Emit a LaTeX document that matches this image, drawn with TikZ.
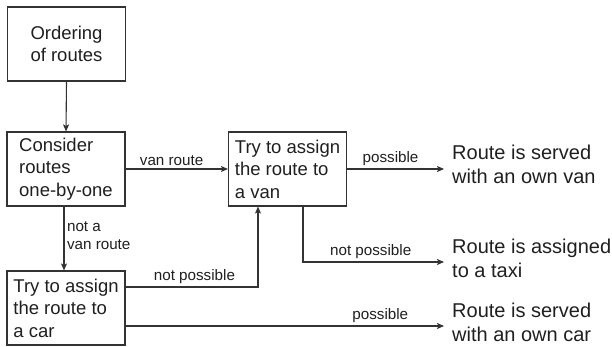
\documentclass[tikz,border=0pt]{standalone}
\usepackage{fontspec}
\setmainfont{Liberation Sans}
\usetikzlibrary{arrows.meta}
\colorlet{lnx}{black!80}
\colorlet{txx}{black!88}
\tikzset{
    stepbox/.style={draw=lnx,line width=1.1pt,text=txx,align=left,inner sep=4pt,
        minimum width=118pt,minimum height=74pt,font=\fontsize{18.5}{22.5}\selectfont},
    result/.style={anchor=west,text=txx,align=left,inner xsep=8pt,inner ysep=0pt,
        font=\fontsize{20}{24}\selectfont},
    lbl/.style={text=txx,inner sep=2.5pt,font=\fontsize{15.2}{17.5}\selectfont},
    conn/.style={draw=lnx,line width=1.1pt,-{Stealth[length=7pt,width=6pt,inset=1.5pt]}}
}
\begin{document}
\begin{tikzpicture}[x=1pt,y=-1pt]
    \useasboundingbox (0,0) rectangle (612,347);
    \node [stepbox,align=center] (order) at (66.5,44) {Ordering\\of routes};
    \node [stepbox] (consider) at (66,169) {Consider\\routes\\one-by-one};
    \node [stepbox] (van) at (287.5,169) {Try to assign\\the route to\\a van};
    \node [stepbox] (car) at (66,308) {Try to assign\\the route to\\a car};
    \node [result] (vanres) at (444,164) {Route is served\\with an own van};
    \node [result] (taxi) at (444,258) {Route is assigned\\to a taxi};
    \node [result] (carres) at (444,322) {Route is served\\with an own car};
    \draw [conn] (order.south) -- (consider.north);
    \draw [conn] (consider) -- (van)
        node [lbl,above,pos=0.45] {van route};
    \draw [conn] (van.east) -- (van.east -| vanres.west)
        node [lbl,above,midway,xshift=-5pt] {possible};
    \draw [conn] ([xshift=15.5pt]van.south) |- ([yshift=-4pt]taxi.west)
        node [lbl,above,pos=0.74] {not possible};
    \draw [conn] ([xshift=-2pt]consider.south) -- ([xshift=-2pt]car.north)
        node [lbl,right,align=left,midway,yshift=3pt] {not a\\van route};
    \draw [conn] ([yshift=21pt]car.east) -| ([xshift=-29.5pt]van.south)
        node [lbl,above,pos=0.26] {not possible};
    \draw [conn] ([yshift=-18pt]car.east) -- ([yshift=-18pt]car.east -| carres.west)
        node [lbl,above,pos=0.8] {possible};
\end{tikzpicture}
\end{document}
